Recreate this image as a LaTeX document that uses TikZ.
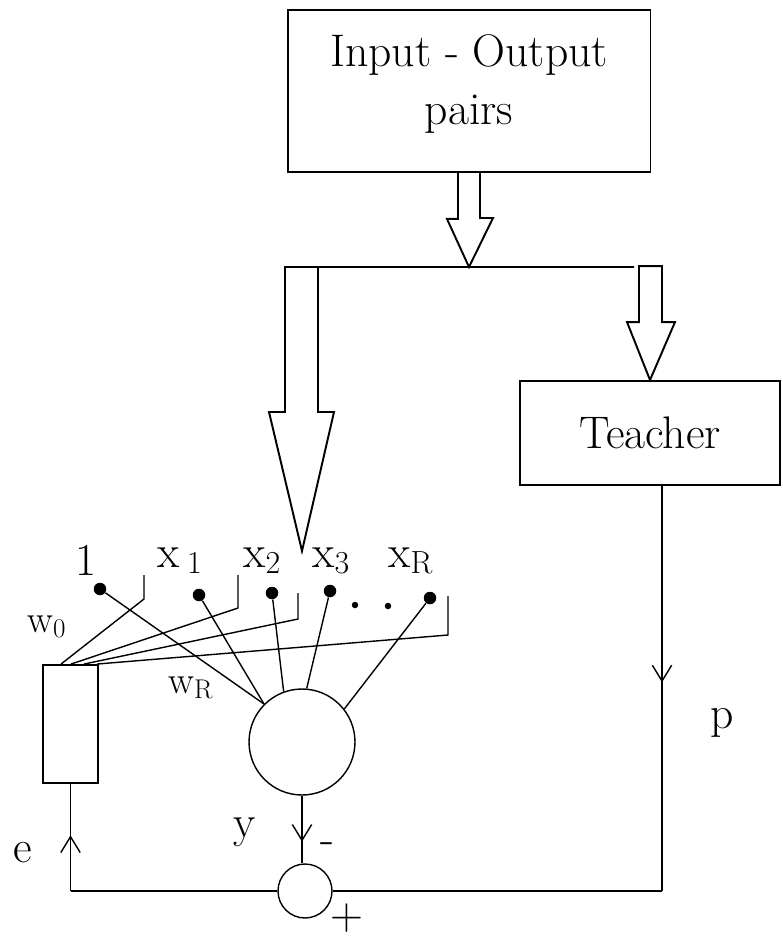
\documentclass[tikz,border=0pt]{standalone}
\usetikzlibrary{arrows.meta,decorations.markings,calc}

\begin{document}
\begin{tikzpicture}
[
	x=0.02cm,
	y=-0.02cm,
	box/.style={draw,line width=1.1pt,inner sep=0pt},
	wire/.style={line width=0.8pt},
	hollow/.style={line width=1.1pt,line join=miter},
	pin/.style={circle,fill,inner sep=0pt,minimum size=0.25cm},
	smallpin/.style={circle,fill,inner sep=0pt,minimum size=0.13cm},
	big/.style={font=\fontsize{26}{33}\selectfont},
	lbl/.style={font=\fontsize{26}{30}\selectfont,inner sep=0pt,anchor=base west},
	wlbl/.style={font=\fontsize{22}{26}\selectfont,inner sep=0pt,anchor=base west},
	midarr/.style={postaction={decorate},decoration={markings,mark=at position #1 with {\arrow{Straight Barb[length=9pt,width=11pt]}}}}
]

	\useasboundingbox (0,0) rectangle (782,939);

	% boxes
	\node[box,big,align=center,minimum width=7.26cm,minimum height=3.24cm] (io) at (469,91) {Input - Output\\pairs\\[-20pt]};
	\node[box,big,minimum width=5.2cm,minimum height=2.08cm] (teacher) at (650,433) {Teacher};
	\node[box,minimum width=1.1cm,minimum height=2.36cm] (wbox) at (70.5,724) {};
	\node[draw,circle,wire,minimum size=2.12cm] (neuron) at (302,742) {};
	\node[draw,circle,wire,minimum size=1.08cm] (sum) at (305,891) {};

	% bus
	\coordinate (split) at (469,267);
	\coordinate (busL) at (285,267);
	\coordinate (busR) at (634,267);
	\coordinate (tipL) at (302,551);
	\draw[hollow] ($(io.south)+(-11,0)$) -- ++(0,46) -- ++(-11,0) -- (split)
	  -- ++(24,-49) -- ++(-13,0) -- ++(0,-46);
	\draw[hollow] (busR) -- (busL) -- ++(0,145) -- ++(-16,0) -- (tipL)
	  -- ++(32,-139) -- ++(-16,0) -- ++(0,-145);
	\draw[hollow] (teacher.north) -- ++(25,-58) -- ++(-13,0) -- ++(0,-56)
	  -- ++(-23,0) -- ++(0,56) -- ++(-12,0) -- cycle;

	% inputs
	\node[pin] (d0) at (100,589) {};
	\node[pin] (d1) at (199,595) {};
	\node[pin] (d2) at (272,593) {};
	\node[pin] (d3) at (330,591) {};
	\node[pin] (dR) at (430,598) {};
	\node[smallpin] (e1) at (355,605) {};
	\node[smallpin] (e2) at (388,606) {};

	\node[lbl] (l0) at (75,575) {1};
	\node[lbl] (l1) at (157,567) {x\,\textsubscript{1}};
	\node[lbl] (l2) at (243,567) {x\textsubscript{2}};
	\node[lbl] (l3) at (312,567) {x\textsubscript{3}};
	\node[lbl] (lR) at (388,567) {x\textsubscript{R}};

	% input lines
	\foreach \d/\a in {d0/135,d1/135,d2/110,d3/85,dR/38} {
		\draw[wire] (\d) -- (neuron.\a);
	}

	% weight contacts
	\foreach \i/\bx/\btop/\bbot/\off in {0/144/575/599/19,1/238/575/608/29,2/298/593/619/42,R/448/596/635/55} {
		\coordinate (bt\i) at (\bx,\btop);
		\coordinate (bb\i) at (\bx,\bbot);
		\draw[wire] (bt\i) -- (bb\i) -- ($(wbox.north west)+(\off,0)$);
	}

	\node[wlbl] (lw0) at (27,632) {w\textsubscript{0}};
	\node[wlbl] (lwR) at (168,693) {w\textsubscript{R}};

	% feedback
	\coordinate (corner) at (662,891);
	\coordinate (ecorner) at (wbox.south |- sum.west);
	\draw[wire,midarr=0.68] (neuron.south) -- (neuron.south |- sum.north);
	\draw[wire,midarr=0.485] (teacher.south -| corner) -- (corner);
	\draw[wire] (corner) -- (sum.east);
	\draw[wire] (sum.west) -- (ecorner);
	\draw[wire,midarr=0.52] (ecorner) -- (wbox.south);

	\node[lbl] (ly) at (233,837) {y};
	\node[lbl] (le) at (13,862) {e};
	\node[lbl] (lp) at (710,728) {p};
	\node[lbl,anchor=center] (lminus) at (327,848) {-};
	\node[lbl,anchor=center] (lplus) at (347,918) {+};

\end{tikzpicture}
\end{document}
